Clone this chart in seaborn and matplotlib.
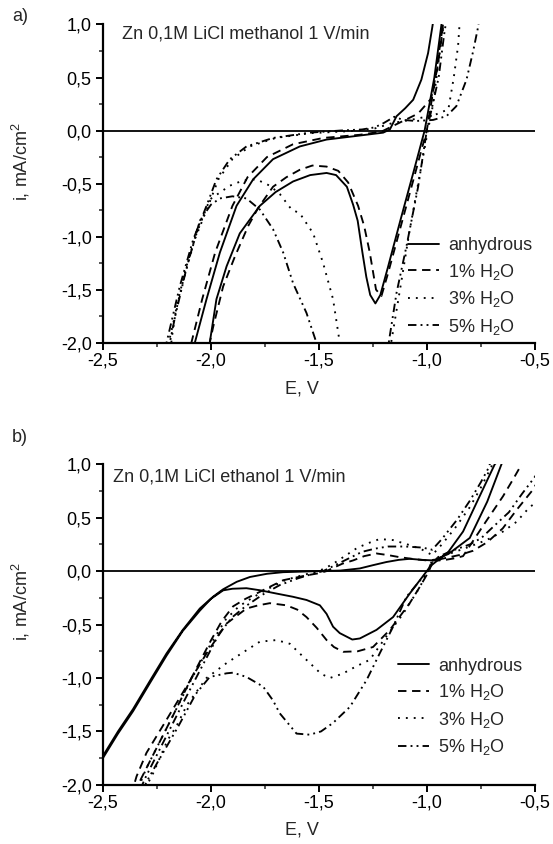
import numpy as np
import pandas as pd
import seaborn as sns
import matplotlib
matplotlib.use("Agg")
import matplotlib.pyplot as plt
from matplotlib.lines import Line2D
from matplotlib.ticker import MultipleLocator, FuncFormatter

# ---------------- data (E in V, i in mA/cm2) ----------------
series_names = ["anhydrous", "1% H$_2$O", "3% H$_2$O", "5% H$_2$O"]

# a) methanol
meoh_anh_E = [-0.925, -0.932, -0.965, -1.01, -1.06, -1.12, -1.18, -1.215, -1.238, -1.262, -1.28, -1.298,
              -1.32, -1.341, -1.37, -1.42, -1.464, -1.54, -1.619, -1.70, -1.773, -1.866, -1.927, -1.974,
              -2.005, -2.03, -2.074, -2.020, -1.958, -1.881, -1.804, -1.712, -1.588, -1.464, -1.31, -1.202,
              -1.171, -1.14, -1.10, -1.063, -1.025, -0.994, -0.974, -0.965]
meoh_anh_i = [1.1, 1.0, 0.5, 0.0, -0.38, -0.83, -1.29, -1.55, -1.63, -1.55, -1.38, -1.15,
              -0.85, -0.70, -0.53, -0.42, -0.40, -0.42, -0.48, -0.58, -0.71, -0.97, -1.28, -1.59,
              -2.0, -2.3, -2.0, -1.59, -1.15, -0.71, -0.46, -0.27, -0.15, -0.085, -0.047, -0.02,
              0.01, 0.135, 0.21, 0.29, 0.48, 0.73, 0.98, 1.1]

meoh_w1_E = [-0.915, -0.925, -0.96, -1.0, -1.06, -1.12, -1.18, -1.21, -1.235, -1.264, -1.29, -1.318,
             -1.364, -1.41, -1.464, -1.53, -1.588, -1.65, -1.712, -1.781, -1.827, -1.889, -1.943, -1.989,
             -2.005, -2.04, -2.09, -2.04, -1.98, -1.90, -1.83, -1.74, -1.62, -1.48, -1.31, -1.21,
             -1.16, -1.10, -1.04, -0.98, -0.95, -0.93, -0.92]
meoh_w1_i = [1.1, 1.0, 0.5, 0.0, -0.45, -0.9, -1.35, -1.56, -1.50, -1.15, -0.90, -0.71,
             -0.49, -0.38, -0.34, -0.33, -0.37, -0.44, -0.53, -0.73, -0.90, -1.19, -1.47, -1.85,
             -2.0, -2.3, -2.0, -1.59, -1.15, -0.71, -0.44, -0.25, -0.13, -0.07, -0.04, -0.01,
             0.04, 0.10, 0.16, 0.3, 0.6, 0.9, 1.1]

meoh_w3_E = [-0.91, -0.93, -0.955, -0.975, -0.995, -1.04, -1.08, -1.12, -1.165, -1.2, -1.3, -1.403,
             -1.434, -1.480, -1.526, -1.588, -1.626, -1.68, -1.727, -1.789, -1.85, -1.912, -2.005, -2.066,
             -2.113, -2.159, -2.182, -2.19, -2.195, -2.135, -2.075, -2.012, -1.965, -1.90, -1.82, -1.70,
             -1.54, -1.35, -1.24, -1.16, -1.05, -0.96, -0.90, -0.875, -0.855, -0.845]
meoh_w3_i = [1.1, 0.9, 0.5, 0.2, 0.0, -0.5, -0.95, -1.45, -2.0, -2.4, -2.6, -2.0,
             -1.59, -1.25, -0.97, -0.78, -0.745, -0.60, -0.52, -0.46, -0.47, -0.52, -0.65, -0.97,
             -1.28, -1.66, -1.97, -2.3, -2.0, -1.47, -1.03, -0.71, -0.46, -0.27, -0.15, -0.07,
             -0.025, -0.005, 0.02, 0.07, 0.11, 0.15, 0.20, 0.5, 0.8, 1.1]

meoh_w5_E = [-0.905, -0.92, -0.945, -0.971, -1.0, -1.04, -1.094, -1.14, -1.174, -1.2, -1.35, -1.511,
             -1.557, -1.619, -1.665, -1.712, -1.773, -1.835, -1.90, -1.958, -2.0, -2.051, -2.113, -2.165,
             -2.19, -2.2, -2.205, -2.144, -2.082, -2.020, -1.974, -1.912, -1.835, -1.712, -1.542, -1.40,
             -1.30, -1.241, -1.20, -1.15, -1.11, -1.05, -0.971, -0.909, -0.863, -0.816, -0.785, -0.762, -0.755]
meoh_w5_i = [1.1, 0.9, 0.5, 0.26, 0.0, -0.53, -1.09, -1.53, -1.97, -2.4, -2.6, -2.0,
             -1.72, -1.44, -1.15, -0.93, -0.745, -0.64, -0.62, -0.64, -0.70, -0.85, -1.30, -1.75,
             -2.0, -2.3, -2.0, -1.47, -1.03, -0.71, -0.46, -0.27, -0.15, -0.07, -0.02, 0.0,
             0.01, 0.03, 0.07, 0.13, 0.10, 0.09, 0.10, 0.135, 0.23, 0.48, 0.75, 0.98, 1.1]

# b) ethanol
etoh_anh_E = [-0.63, -0.685, -0.76, -0.832, -0.90, -0.975, -1.0, -1.079, -1.156, -1.233, -1.31, -1.345,
              -1.403, -1.434, -1.464, -1.495, -1.557, -1.62, -1.696, -1.77, -1.835, -1.90, -1.943, -2.0,
              -2.051, -2.13, -2.205, -2.28, -2.36, -2.43, -2.5, -2.55,
              -2.55, -2.5, -2.43, -2.36, -2.28, -2.205, -2.13, -2.051, -1.99, -1.943, -1.88, -1.819,
              -1.74, -1.665, -1.5, -1.40, -1.31, -1.25, -1.187, -1.13, -1.079, -1.02, -0.971, -0.90,
              -0.801, -0.72, -0.654, -0.63]
etoh_anh_i = [1.1, 1.0, 0.68, 0.37, 0.18, 0.06, 0.0, -0.21, -0.43, -0.55, -0.63, -0.64,
              -0.58, -0.52, -0.40, -0.32, -0.27, -0.24, -0.21, -0.18, -0.16, -0.165, -0.18, -0.26,
              -0.37, -0.56, -0.79, -1.04, -1.31, -1.52, -1.75, -1.95,
              -1.93, -1.73, -1.50, -1.29, -1.02, -0.77, -0.55, -0.35, -0.24, -0.17, -0.10, -0.055,
              -0.025, -0.01, 0.0, 0.005, 0.025, 0.055, 0.085, 0.105, 0.115, 0.105, 0.10, 0.16,
              0.31, 0.65, 1.0, 1.1]

etoh_w1_E = [-0.48, -0.509, -0.585, -0.648, -0.72, -0.786, -0.85, -0.93, -0.975, -0.99, -1.03, -1.079,
             -1.171, -1.249, -1.32, -1.387, -1.43, -1.464, -1.51, -1.557, -1.60, -1.650, -1.727, -1.78,
             -1.835, -1.927, -2.020, -2.113, -2.205, -2.298, -2.344, -2.37,
             -2.355, -2.325, -2.25, -2.17, -2.09, -2.0, -1.95, -1.897, -1.84, -1.789, -1.72, -1.665,
             -1.557, -1.50, -1.464, -1.434, -1.39, -1.341, -1.29, -1.233, -1.18, -1.125, -1.05, -1.0,
             -0.93, -0.87, -0.832, -0.78, -0.724, -0.647, -0.60, -0.569, -0.555]
etoh_w1_i = [0.86, 0.76, 0.57, 0.40, 0.27, 0.19, 0.15, 0.115, 0.08, 0.0, -0.14, -0.30,
             -0.55, -0.71, -0.75, -0.755, -0.71, -0.645, -0.53, -0.43, -0.36, -0.32, -0.30, -0.32,
             -0.35, -0.49, -0.77, -1.08, -1.39, -1.70, -1.92, -2.1,
             -2.1, -1.95, -1.65, -1.33, -1.0, -0.65, -0.47, -0.33, -0.26, -0.21, -0.14, -0.085,
             -0.04, -0.02, 0.0, 0.03, 0.07, 0.10, 0.14, 0.165, 0.15, 0.13, 0.11, 0.10,
             0.10, 0.12, 0.14, 0.30, 0.47, 0.70, 0.86, 0.97, 1.1]

etoh_w3_E = [-0.48, -0.523, -0.585, -0.647, -0.724, -0.80, -0.87, -0.93, -0.975, -0.99, -1.032, -1.110,
             -1.187, -1.264, -1.326, -1.39, -1.449, -1.49, -1.526, -1.573, -1.634, -1.696, -1.773, -1.835,
             -1.927, -2.02, -2.11, -2.159, -2.2, -2.267, -2.29, -2.33,
             -2.35, -2.30, -2.2, -2.1, -2.0, -1.93, -1.87, -1.80, -1.72, -1.65, -1.56, -1.50,
             -1.44, -1.38, -1.32, -1.26, -1.218, -1.156, -1.09, -1.03, -0.975, -0.93, -0.87, -0.80,
             -0.75, -0.70, -0.69]
etoh_w3_i = [0.66, 0.60, 0.46, 0.37, 0.29, 0.23, 0.18, 0.14, 0.10, 0.03, -0.15, -0.40,
             -0.61, -0.83, -0.89, -0.96, -1.0, -0.96, -0.89, -0.80, -0.68, -0.645, -0.66, -0.74,
             -0.86, -1.0, -1.25, -1.45, -1.58, -1.89, -1.98, -2.1,
             -2.1, -1.85, -1.45, -1.05, -0.68, -0.45, -0.33, -0.24, -0.15, -0.08, -0.03, 0.0,
             0.06, 0.14, 0.22, 0.27, 0.30, 0.29, 0.25, 0.21, 0.15, 0.25, 0.40, 0.60,
             0.78, 0.98, 1.1]

etoh_w5_E = [-0.48, -0.5, -0.56, -0.62, -0.70, -0.747, -0.80, -0.87, -0.93, -0.975, -0.995, -1.094,
             -1.156, -1.218, -1.279, -1.356, -1.434, -1.49, -1.542, -1.603, -1.681, -1.712, -1.758, -1.835,
             -1.897, -1.927, -2.005, -2.07, -2.15, -2.25, -2.30, -2.32,
             -2.34, -2.30, -2.22, -2.12, -2.03, -1.96, -1.90, -1.84, -1.76, -1.68, -1.60, -1.52,
             -1.48, -1.42, -1.36, -1.30, -1.24, -1.18, -1.10, -1.02, -0.975, -0.93, -0.86, -0.80,
             -0.75, -0.71, -0.70]
etoh_w5_i = [0.94, 0.88, 0.72, 0.55, 0.40, 0.31, 0.25, 0.20, 0.15, 0.10, 0.0, -0.24,
             -0.52, -0.77, -1.02, -1.27, -1.42, -1.50, -1.53, -1.52, -1.33, -1.21, -1.08, -0.99,
             -0.95, -0.956, -0.99, -1.15, -1.45, -1.80, -1.98, -2.1,
             -2.1, -1.92, -1.6, -1.2, -0.85, -0.58, -0.43, -0.33, -0.22, -0.13, -0.07, -0.02,
             0.0, 0.06, 0.12, 0.18, 0.21, 0.23, 0.23, 0.22, 0.20, 0.30, 0.48, 0.66,
             0.83, 0.98, 1.1]

panel_a = [(meoh_anh_E, meoh_anh_i), (meoh_w1_E, meoh_w1_i), (meoh_w3_E, meoh_w3_i), (meoh_w5_E, meoh_w5_i)]
panel_b = [(etoh_anh_E, etoh_anh_i), (etoh_w1_E, etoh_w1_i), (etoh_w3_E, etoh_w3_i), (etoh_w5_E, etoh_w5_i)]

x_ticks = [-2.5, -2.0, -1.5, -1.0, -0.5]
y_ticks = [-2.0, -1.5, -1.0, -0.5, 0.0, 0.5, 1.0]

# ---------------- style ----------------
sns.set_style("ticks")
plt.rcParams['font.family'] = ['Liberation Sans', 'DejaVu Sans']
plt.rcParams['mathtext.fontset'] = 'custom'
plt.rcParams['mathtext.rm'] = 'Liberation Sans'
plt.rcParams['mathtext.it'] = 'Liberation Sans:italic'
plt.rcParams['mathtext.default'] = 'regular'

fs = 13
lw = 1.35
dash_map = {
    series_names[0]: "",
    series_names[1]: (4.5, 3),
    series_names[2]: (1, 3.2),
    series_names[3]: (4.5, 2.2, 1, 2.2, 1, 2.2),
}


def to_frame(panel):
    parts = []
    for name, (E, i) in zip(series_names, panel):
        parts.append(pd.DataFrame({"E": E, "i": i, "series": name}))
    return pd.concat(parts, ignore_index=True)


def draw(ax, panel, title, title_xy, leg_xy, xlab_y):
    df = to_frame(panel)
    sns.lineplot(data=df, x="E", y="i", style="series", dashes=dash_map, sort=False,
                 estimator=None, color="black", lw=lw, legend=False, ax=ax)
    ax.axhline(0, color="black", lw=1.3)
    ax.set_xlim(-2.5, -0.5)
    ax.set_ylim(-2.0, 1.0)
    ax.set_xticks(x_ticks)
    ax.set_yticks(y_ticks)
    ax.xaxis.set_minor_locator(MultipleLocator(0.25))
    ax.yaxis.set_minor_locator(MultipleLocator(0.25))
    fmt = FuncFormatter(lambda v, p: f"{v:.1f}".replace(".", ","))
    ax.xaxis.set_major_formatter(fmt)
    ax.yaxis.set_major_formatter(fmt)
    ax.tick_params(which="major", direction="out", length=5, width=1.4, labelsize=fs, colors="black")
    ax.tick_params(which="minor", direction="out", length=3, width=1.1)
    ax.tick_params(axis="x", pad=2)
    ax.tick_params(axis="y", pad=3)
    for s in ["top", "right"]:
        ax.spines[s].set_visible(False)
    for s in ["left", "bottom"]:
        ax.spines[s].set_linewidth(1.6)
        ax.spines[s].set_color("black")
    ax.set_xlabel("E, V", fontsize=fs)
    ax.set_ylabel("i, mA/cm$^2$", fontsize=fs)
    ax.xaxis.set_label_coords(0.46, xlab_y)
    ax.yaxis.set_label_coords(-0.165, 0.57)
    ax.text(title_xy[0], title_xy[1], title, transform=ax.transAxes, fontsize=fs,
            ha="left", va="center")
    handles = [Line2D([0], [0], color="black", lw=lw,
                      linestyle="-" if dash_map[n] == "" else (0, dash_map[n]))
               for n in series_names]
    ax.legend(handles, series_names, loc="upper left", bbox_to_anchor=leg_xy, frameon=False,
              fontsize=fs, handlelength=1.75, handletextpad=0.5, labelspacing=0.42,
              borderpad=0, borderaxespad=0)


fig = plt.figure(figsize=(5.53, 8.44), dpi=100)
ax_a = fig.add_axes([0.186, 0.594, 0.781, 0.377])
ax_b = fig.add_axes([0.186, 0.070, 0.781, 0.380])

draw(ax_a, panel_a, "Zn 0,1M LiCl methanol 1 V/min", (0.044, 0.969), (0.706, 0.332), -0.12)
draw(ax_b, panel_b, "Zn 0,1M LiCl ethanol 1 V/min", (0.023, 0.96), (0.683, 0.397), -0.115)

fig.text(0.022, 0.981, "a)", fontsize=fs, ha="left", va="center")
fig.text(0.022, 0.482, "b)", fontsize=fs, ha="left", va="center")

fig.savefig("out.png", dpi=100)
